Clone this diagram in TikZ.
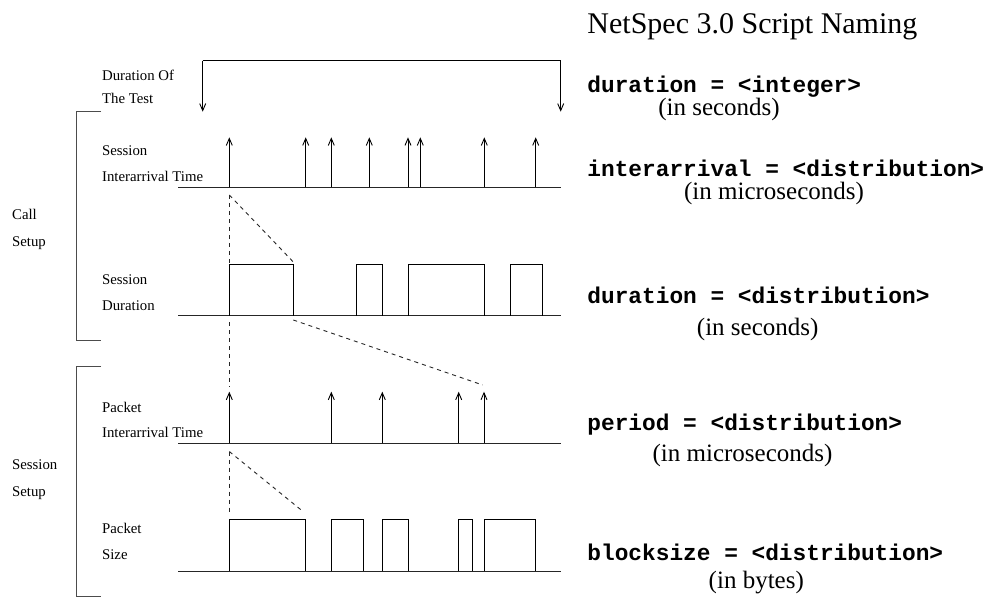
\documentclass[tikz,border=0pt]{standalone}
\usepackage{fontspec}
\setmainfont{Liberation Serif}
\setmonofont{Liberation Mono}
\usetikzlibrary{arrows.meta}
\begin{document}
\begin{tikzpicture}[x=1pt,y=-1pt,line width=0.9pt,
  tip/.style={-{Straight Barb[length=7pt,width=6pt]}},
  lbl/.style={anchor=base west,inner sep=0pt,font=\fontsize{14.8}{17}\selectfont},
  code/.style={anchor=base west,inner sep=0pt,font=\fontsize{22.8}{26}\selectfont\ttfamily\bfseries},
  unit/.style={anchor=base,inner sep=0pt,font=\fontsize{25}{30}\selectfont},
  ttl/.style={anchor=base west,inner sep=0pt,font=\fontsize{30}{34}\selectfont},
  axis/.style={draw=black!85},
  brk/.style={draw=black!70},
  dsh/.style={draw=black!85,dash pattern=on 4pt off 4pt}]
\useasboundingbox (0,0) rectangle (989,599);

% ---- right column
\node[ttl] (title) at (587,34) {NetSpec 3.0 Script Naming};
\node[code] (c1) at (587,93) {duration = <integer>};
\node[unit] (u1) at (719,116) {(in seconds)};
\node[code] (c2) at (587,177) {interarrival = <distribution>};
\node[unit] (u2) at (774,200) {(in microseconds)};
\node[code] (c3) at (587,303) {duration = <distribution>};
\node[unit] (u3) at (757.7,335) {(in seconds)};
\node[code] (c4) at (587,430) {period = <distribution>};
\node[unit] (u4) at (742.5,461) {(in microseconds)};
\node[code] (c5) at (587,560) {blocksize = <distribution>};
\node[unit] (u5) at (756.3,588) {(in bytes)};

% ---- left labels
\node[lbl] (d1) at (101.7,80.7) {Duration Of};
\node[lbl] (d2) at (101.7,103.3) {The Test};
\node[lbl] (s1) at (101.7,156) {Session};
\node[lbl] (s2) at (101.7,181.7) {Interarrival Time};
\node[lbl] (sd1) at (101.7,284.5) {Session};
\node[lbl] (sd2) at (101.7,310) {Duration};
\node[lbl] (p1) at (101.7,412.5) {Packet};
\node[lbl] (p2) at (101.7,437.3) {Interarrival Time};
\node[lbl] (ps1) at (101.7,533.5) {Packet};
\node[lbl] (ps2) at (101.7,559) {Size};
\node[lbl] (cs1) at (11.7,220) {Call};
\node[lbl] (cs2) at (11.7,246.5) {Setup};
\node[lbl] (ss1) at (11.7,469.5) {Session};
\node[lbl] (ss2) at (11.7,496) {Setup};

% ---- brackets
\draw[brk] (101,111.7) -- (76,111.7) -- (76,340.7) -- (101,340.7);
\draw[brk] (101,366.7) -- (76,366.7) -- (76,596.7) -- (101,596.7);

% ---- duration of the test
\coordinate (tl) at (202.7,111.7);
\coordinate (tr) at (560.7,111.7);
\coordinate (tlt) at (202.7,60.7);
\coordinate (trt) at (560.7,60.7);
\draw[tip] (tlt) -- (tl);
\draw[tip] (tlt) -- (trt) -- (tr);

% ---- axes
\foreach \y/\n in {187.5/ax1,315.7/ax2,443.3/ax3,571/ax4}{
  \coordinate (\n l) at (178.3,\y);
  \coordinate (\n r) at (560.7,\y);
  \draw[axis] (\n l) -- (\n r);
}

% ---- session interarrival arrows
\foreach \x in {229.3,305.7,331.3,369.3,408,420.3,484.3,535.7}
  \draw[tip] (\x,187.5) -- (\x,137.3);

% ---- session durations
\foreach \a/\b in {229.3/293.3,356.7/382.3,408/484.3,510/542.3}
  \draw (\a,315.7) -- (\a,264.7) -- (\b,264.7) -- (\b,315.7);

% ---- packet interarrival arrows
\foreach \x in {229.3,331.3,382.3,458.7,484}
  \draw[tip] (\x,443.3) -- (\x,391.7);

% ---- packet sizes
\foreach \a/\b in {229.3/305.7,331.3/363.3,382.3/408,458.7/472,484.3/535.7}
  \draw (\a,571) -- (\a,519.7) -- (\b,519.7) -- (\b,571);

% ---- zoom guides
\draw[dsh] (229.3,195) -- (229.3,264.7);
\draw[dsh] (229.3,195) -- (293.3,262);
\draw[dsh] (229.3,322) -- (229.3,387);
\draw[dsh] (293.3,320) -- (482.7,385);
\draw[dsh] (229.3,451.5) -- (229.3,512.3);
\draw[dsh] (229.3,451.5) -- (303.3,511.7);
\end{tikzpicture}
\end{document}
